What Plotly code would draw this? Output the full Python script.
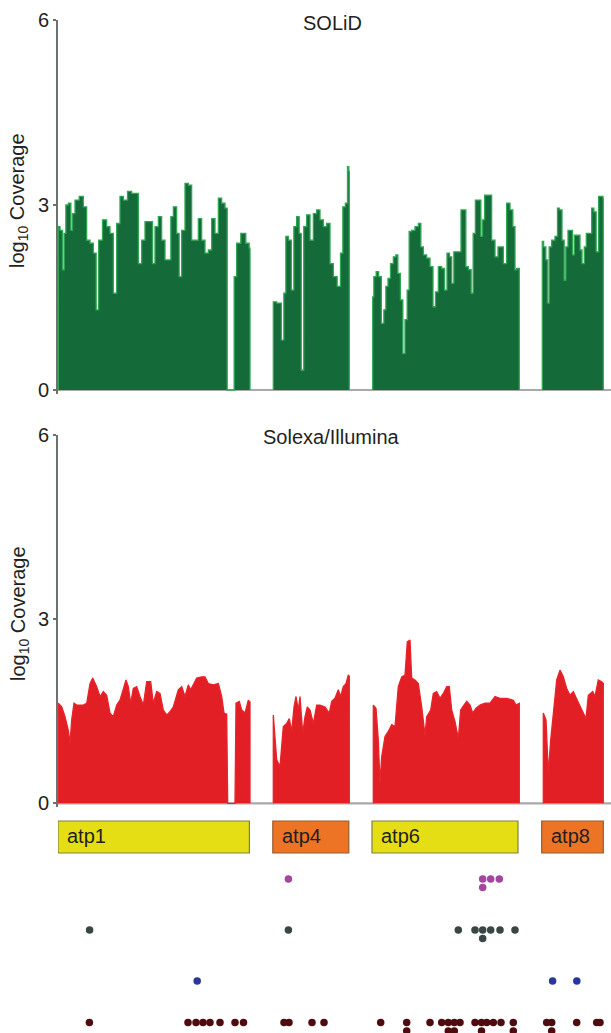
import plotly.graph_objects as go

# ---------------- DATA ----------------
solid_pos = [0.3, 3.7, 5.3, 7.0, 8.7, 12.0, 13.7, 15.3, 18.7, 23.7, 27.0, 30.3, 33.7, 37.0, 39.3, 42.0,
             47.0, 50.3, 53.7, 57.0, 60.3, 63.7, 67.0, 72.0, 75.3, 78.7, 82.0, 85.3, 88.7, 93.7, 95.3,
             98.7, 102.0, 105.3, 108.7, 112.0, 113.7, 117.0, 120.3, 122.0, 125.3, 128.7, 132.0, 135.3,
             138.7, 142.0, 145.3, 148.7, 152.0, 155.3, 158.7, 162.0, 165.3, 168.7, 169.7, 175.3, 177.0,
             180.3, 185.3, 190.3, 192.0, None,
             215.3, 222.0, 224.7, 227.0, 228.7, 232.0, 234.7, 237.0, 240.3, 242.0, 244.5, 247.0, 250.3,
             253.7, 257.0, 260.3, 263.7, 267.0, 270.3, 273.7, 277.0, 281.3, 283.7, 286.0, 288.7, 290.3,
             291.3, None,
             314.7, 317.0, 319.3, 322.0, 324.7, 327.0, 328.7, 331.3, 333.7, 337.0, 338.7, 341.0, 343.7,
             346.0, 348.0, 350.3, 352.0, 355.3, 358.7, 362.0, 363.7, 367.0, 370.3, 373.7, 376.3, 378.7,
             382.0, 385.3, 387.7, 390.3, 392.7, 394.7, 397.0, 401.3, 404.7, 407.0, 408.7, 412.0, 414.3,
             416.0, 418.7, 422.0, 423.7, 425.3, 428.0, 432.0, 435.3, 438.7, 441.3, 443.7, 447.0, 450.3,
             453.7, 456.0, 458.0, 459.3, 461.3, None,
             484.3, 487.0, 488.7, 490.3, 492.0, 495.3, 498.7, 500.3, 502.7, 505.3, 507.0, 508.7, 511.3,
             513.7, 515.3, 517.3, 521.3, 522.7, 525.3, 527.3, 529.3, 532.7, 534.7, 537.0, 539.3, 542.0,
             544.7, 545.3]
solid_cov = [2.65, 2.59, 1.95, 2.54, 3.00, 3.03, 2.59, 2.86, 3.08, 3.14, 2.97, 2.43, 2.38, 2.22, 1.30, 2.43,
             2.76, 2.65, 2.54, 1.57, 2.70, 3.14, 3.08, 3.22, 3.19, 3.19, 2.05, 2.43, 2.73, 2.73, 2.05,
             2.65, 2.81, 2.43, 2.11, 2.11, 2.81, 2.97, 2.54, 1.84, 2.59, 3.35, 3.32, 2.43,
             2.43, 2.78, 2.43, 2.22, 2.27, 2.78, 2.54, 3.11, 3.03, 2.95, 0.0, 0.0, 1.84,
             2.38, 2.54, 2.38, 2.30, None,
             1.43, 1.41, 0.81, 1.57, 2.49, 2.43, 1.62, 2.65, 2.81, 2.54, 0.32, 2.65, 2.84,
             2.43, 2.86, 2.92, 2.76, 2.65, 2.70, 2.05, 1.84, 1.68, 2.22, 2.97, 3.03, 3.62,
             3.55, None,
             1.51, 1.84, 1.92, 1.84, 1.08, 1.30, 1.68, 1.81, 2.05, 2.16, 2.19, 1.89, 1.46,
             0.59, 1.14, 1.62, 2.57, 2.59, 2.65, 2.70, 2.32, 2.19, 2.14, 2.00, 1.35, 1.59,
             2.00, 1.97, 1.62, 2.22, 2.16, 1.73, 2.24, 2.24, 2.92, 2.92, 2.00, 1.95, 1.57,
             2.54, 3.08, 3.08, 2.49, 2.76, 3.16, 3.16, 2.43, 2.16, 2.32, 2.32, 2.05, 3.03,
             2.92, 2.65, 1.95, 1.97, 1.97, None,
             2.41, 2.32, 2.11, 1.41, 2.32, 2.43, 2.49, 2.95, 2.92, 2.43, 1.78, 2.32, 2.59,
             2.59, 2.19, 2.51, 2.51, 2.27, 2.05, 2.32, 2.54, 2.54, 2.95, 2.89, 2.24, 3.14,
             3.14, 3.10]

solexa_pos = [0.3, 3.7, 7.0, 10.3, 12.0, 13.7, 16.0, 18.7, 25.3, 28.7, 32.0, 34.7, 38.7, 42.0, 45.3, 48.7,
              52.0, 55.3, 58.7, 62.0, 65.3, 68.0, 70.3, 72.7, 75.3, 78.7, 82.0, 85.3, 88.7, 92.7, 95.3,
              98.7, 102.0, 105.3, 108.7, 112.0, 115.3, 120.3, 123.7, 127.0, 130.3, 132.7, 138.7, 143.7,
              147.0, 150.3, 155.3, 160.3, 163.7, 166.0, 168.7, 169.7, 177.0, 178.0, 181.3, 183.7, 187.0,
              190.3, 192.0, None,
              215.3, 218.7, 222.0, 225.3, 228.7, 231.3, 233.7, 236.0, 238.0, 240.3, 242.0, 244.7, 247.0,
              249.3, 252.0, 255.3, 258.7, 262.0, 267.0, 271.3, 273.7, 277.0, 280.3, 282.7, 285.3, 288.0,
              290.3, 291.3, None,
              315.3, 318.0, 320.3, 322.0, 323.7, 327.0, 330.3, 333.7, 337.0, 340.3, 343.7, 347.0, 349.3,
              352.0, 353.7, 357.0, 360.3, 363.7, 367.0, 368.7, 372.7, 375.3, 378.7, 382.0, 385.3, 388.7,
              391.3, 393.7, 397.0, 400.3, 402.7, 406.0, 408.7, 412.0, 414.7, 418.0, 422.0, 427.0, 432.0,
              437.0, 442.0, 448.7, 455.3, 458.0, 460.3, 461.3, None,
              485.3, 488.0, 490.3, 492.7, 495.3, 498.7, 502.0, 505.3, 508.7, 512.0, 515.3, 518.7, 522.0,
              524.7, 528.0, 530.3, 534.7, 537.0, 540.3, 543.7, 545.3]
solexa_cov = [1.63, 1.57, 1.41, 1.19, 0.98, 1.36, 1.63, 1.60, 1.60, 1.63, 1.95, 2.04, 1.90, 1.74, 1.82, 1.76,
              1.47, 1.41, 1.60, 1.68, 1.85, 2.01, 1.90, 1.63, 1.87, 1.90, 1.74, 1.60, 1.98, 1.98, 1.63,
              1.82, 1.79, 1.52, 1.44, 1.49, 1.57, 1.85, 1.90, 1.74, 1.93, 1.85, 2.04, 2.06,
              2.06, 1.95, 1.93, 1.95, 1.74, 1.47, 1.45, 0.0, 0.0, 1.63, 1.66, 1.52, 1.47,
              1.68, 1.65, None,
              1.44, 0.71, 0.60, 1.25, 1.30, 1.38, 1.17, 1.57, 1.74, 1.52, 1.74, 1.14, 1.41,
              1.57, 1.52, 1.30, 1.60, 1.60, 1.57, 1.47, 1.66, 1.71, 1.85, 1.74, 1.90, 1.95,
              2.09, 2.07, None,
              1.60, 1.55, 1.03, 0.33, 0.76, 1.09, 1.17, 1.28, 1.25, 1.90, 2.06, 2.09, 2.63,
              2.66, 2.04, 2.01, 1.95, 1.57, 1.11, 1.41, 1.52, 1.79, 1.82, 1.71, 1.79, 1.90,
              1.90, 1.52, 1.33, 1.06, 1.52, 1.60, 1.66, 1.60, 1.47, 1.55, 1.60, 1.63, 1.63,
              1.74, 1.71, 1.71, 1.68, 1.60, 1.63, 1.63, None,
              1.47, 1.36, 0.49, 1.03, 1.47, 2.01, 2.17, 2.06, 1.87, 1.76, 1.82, 1.71, 1.60,
              1.49, 1.38, 1.76, 1.82, 1.74, 2.01, 1.98, 1.95]

gene_names = ["atp1", "atp4", "atp6", "atp8"]
gene_start = [0.0, 214.8, 314.0, 483.7]
gene_end = [191.4, 290.8, 460.0, 545.3]
gene_kind = ["yellow", "orange", "yellow", "orange"]

magenta_pos = [230.4, 424.7, 432.7, 441.3]
magenta_n = [1, 2, 1, 1]
gray_pos = [31.6, 230.4, 400.3, 417.0, 424.7, 432.7, 442.0, 457.0]
gray_n = [1, 1, 1, 1, 2, 1, 1, 1]
blue_pos = [139.2, 494.6, 518.8]
blue_n = [1, 1, 1]
red_pos = [31.4, 130.0, 138.0, 145.0, 152.0, 162.0, 177.0, 185.5, 226.0, 231.0, 254.0, 266.0, 322.7,
           348.7, 372.0, 383.7, 390.3, 396.3, 402.0, 417.0, 423.5, 428.7, 435.3, 443.0, 455.3, 488.7,
           493.7, 518.7, 538.7, 542.0]
red_n = [1, 1, 1, 1, 1, 1, 1, 1, 1, 1, 1, 1, 1,
         3, 1, 1, 2, 2, 1, 1, 2, 1, 1, 1, 3, 1,
         2, 1, 1, 1]

y_ticks = [0, 3, 6]
x_extent = [0, 553]

# ---------------- STYLE / LAYOUT ----------------
W, H = 611, 1033
FONT = "Liberation Sans, Arial, Helvetica, sans-serif"
TXT = "#231f20"
AXIS_COL = "#6b7371"
BASE_COL = "#a9a9a9"
X_LEFT_PX = 58


def dom(top_px, bot_px):
    return [1 - bot_px / H, 1 - top_px / H]


def panel_domain(top6_px, zero_px, lo):
    per = (zero_px - top6_px) / 6.0
    return dom(top6_px, zero_px + (-lo) * per)


YLO = -0.06
fig = go.Figure()


def segments(xs, ys):
    segs, cx, cy = [], [], []
    for x, y in zip(xs, ys):
        if x is None:
            if cx:
                segs.append((cx, cy))
            cx, cy = [], []
        else:
            cx.append(x)
            cy.append(y)
    if cx:
        segs.append((cx, cy))
    return segs


def add_cov(xs, ys, yref, fill, line, shape):
    fig.add_trace(go.Scatter(x=x_extent, y=[0, 0], mode="lines", xaxis="x", yaxis=yref,
                             line=dict(color=BASE_COL, width=2.2), hoverinfo="skip", showlegend=False))
    for sx, sy in segments(xs, ys):
        fx = [sx[0]] + sx + [sx[-1]]
        fy = [0] + sy + [0]
        fig.add_trace(go.Scatter(x=fx, y=fy, mode="lines", fill="toself", fillcolor=fill,
                                 line=dict(color=line, width=1.3, shape=shape), xaxis="x", yaxis=yref,
                                 showlegend=False, hoverinfo="skip"))


add_cov(solid_pos, solid_cov, "y", "#146a39", "#2fa651", "hvh")
add_cov(solexa_pos, solexa_cov, "y2", "#e31f26", "#e8232a", "linear")

gene_fill = {"yellow": "#e5de14", "orange": "#ec7424"}
gene_line = {"yellow": "#808048", "orange": "#985a30"}
for n, s, e, k in zip(gene_names, gene_start, gene_end, gene_kind):
    fig.add_trace(go.Bar(y=[0], x=[e - s], base=[s], orientation="h", width=1,
                         marker=dict(color=gene_fill[k], line=dict(color=gene_line[k], width=1.2)),
                         xaxis="x", yaxis="y3", showlegend=False, hoverinfo="skip"))
    fig.add_annotation(x=s, y=0, xref="x", yref="y3", text=n, showarrow=False,
                       xanchor="left", yanchor="middle", xshift=7, yshift=1,
                       font=dict(family=FONT, size=20, color=TXT))

TRACK_PX = {"magenta": 879, "gray": 930, "blue": 981, "red": 1022.5}
STEP = 8.5
DOT_COL = {"magenta": "#a2469e", "gray": "#3a4644", "blue": "#27379b", "red": "#4e0c10"}
for key, ps, ns in [("magenta", magenta_pos, magenta_n), ("gray", gray_pos, gray_n),
                    ("blue", blue_pos, blue_n), ("red", red_pos, red_n)]:
    xs, ys = [], []
    for p, c in zip(ps, ns):
        for k in range(c):
            xs.append(p)
            ys.append(TRACK_PX[key] + k * STEP)
    fig.add_trace(go.Scatter(x=xs, y=ys, mode="markers", xaxis="x", yaxis="y4",
                             marker=dict(size=7.5, color=DOT_COL[key], line=dict(width=0)),
                             showlegend=False, hoverinfo="skip"))

yax = dict(range=[YLO, 6], tickvals=y_ticks, ticktext=[str(t) for t in y_ticks], showgrid=False,
           zeroline=False, showline=True, linecolor=AXIS_COL, linewidth=1.6, ticks="outside",
           ticklen=3, tickwidth=1.6, tickcolor=AXIS_COL, automargin=False,
           tickfont=dict(family=FONT, size=20, color=TXT), anchor="x")

fig.update_layout(
    width=W, height=H, autosize=False,
    margin=dict(l=0, r=0, t=0, b=0, pad=0, autoexpand=False),
    paper_bgcolor="white", plot_bgcolor="white",
    barmode="overlay",
    xaxis=dict(domain=[X_LEFT_PX / W, 1], range=x_extent, visible=False, fixedrange=True,
               automargin=False),
    yaxis=dict(domain=panel_domain(20, 390, YLO), **yax),
    yaxis2=dict(domain=panel_domain(435, 803.3, YLO), **yax),
    yaxis3=dict(domain=dom(821 - 1.6, 853 + 1.6), range=[-0.55, 0.55], visible=False, anchor="x",
                automargin=False),
    yaxis4=dict(domain=dom(862, 1033), range=[1033, 862], visible=False, anchor="x",
                automargin=False),
)

fig.add_annotation(x=332 / W, y=1 - 22.5 / H, xref="paper", yref="paper", text="SOLiD",
                   showarrow=False, xanchor="center", yanchor="middle",
                   font=dict(family=FONT, size=20, color=TXT))
fig.add_annotation(x=331 / W, y=1 - 436.5 / H, xref="paper", yref="paper", text="Solexa/Illumina",
                   showarrow=False, xanchor="center", yanchor="middle",
                   font=dict(family=FONT, size=20, color=TXT))
for cy in (201, 614):
    fig.add_annotation(x=19 / W, y=1 - cy / H, xref="paper", yref="paper",
                       text="log<sub>10</sub> Coverage", textangle=-90, showarrow=False,
                       xanchor="center", yanchor="middle",
                       font=dict(family=FONT, size=20, color=TXT))

post = (
    "var st=document.createElement('style');"
    "st.textContent='html,body{margin:0!important;padding:0!important;overflow:hidden!important;"
    "width:611px;height:1033px;}';document.head.appendChild(st);"
    "var gd=document.getElementById('{plot_id}');gd.style.position='fixed';"
    "gd.style.left='0px';gd.style.top='0px';gd.style.margin='0';"
)
fig.write_html("out.html", post_script=post, config={"displayModeBar": False})
